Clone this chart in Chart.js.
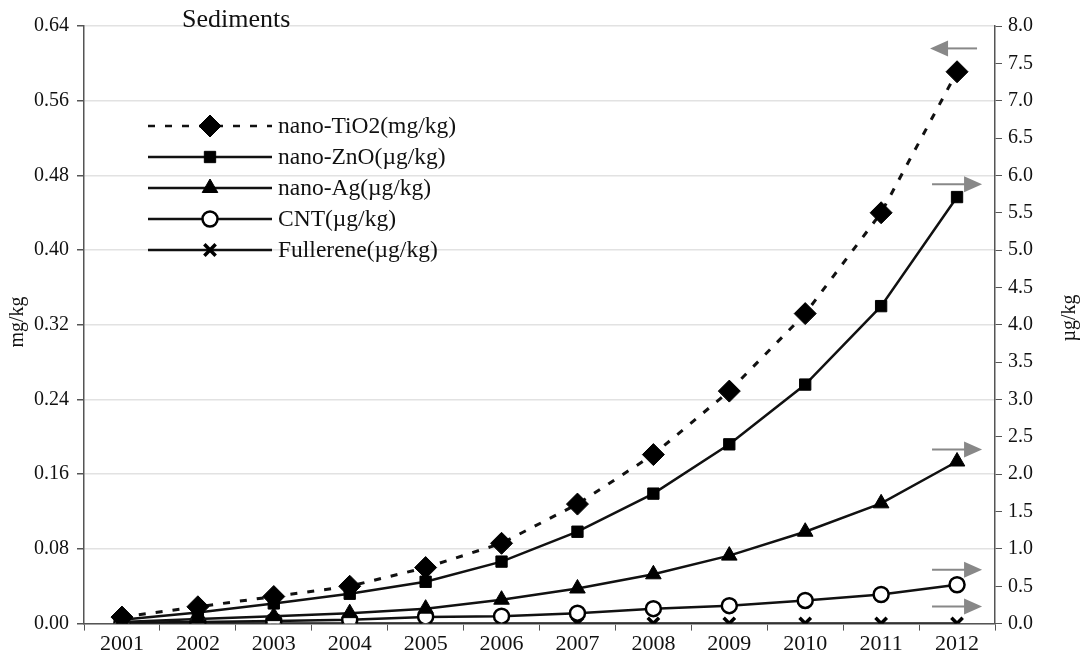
<!DOCTYPE html>
<html>
<head>
<meta charset="utf-8">
<script src="https://cdn.jsdelivr.net/npm/chart.js@4/dist/chart.umd.min.js"></script>
<style>
  html, body { margin: 0; padding: 0; background: #fff; }
  #wrap { width: 1086px; height: 669px; }
</style>
</head>
<body>
<div id="wrap"><canvas id="c"></canvas></div>
<script>
// years on the x axis
const years = ['2001', '2002', '2003', '2004', '2005', '2006', '2007', '2008', '2009', '2010', '2011', '2012'];

// nano-TiO2 is read on the left axis (mg/kg), the rest on the right one (µg/kg)
const tio2 = [0.007, 0.018, 0.029, 0.040, 0.060, 0.086, 0.128, 0.181, 0.249, 0.332, 0.440, 0.591];
const zno = [0.05, 0.15, 0.27, 0.40, 0.56, 0.83, 1.23, 1.74, 2.40, 3.20, 4.25, 5.71];
const ag = [0.02, 0.06, 0.10, 0.14, 0.20, 0.32, 0.47, 0.66, 0.91, 1.23, 1.61, 2.17];
const cnt = [0.01, 0.02, 0.035, 0.05, 0.09, 0.10, 0.14, 0.20, 0.24, 0.31, 0.39, 0.52];
const fullerene = [0.002, 0.002, 0.002, 0.002, 0.002, 0.002, 0.002, 0.002, 0.002, 0.002, 0.002, 0.002];

// grey arrows next to 2012 (value on the right axis, direction)
const arrowValues = [7.7, 5.88, 2.33, 0.72, 0.23];
const arrowDirs = ['left', 'right', 'right', 'right', 'right'];

const FONT = '"Liberation Serif", "DejaVu Serif", serif';
const AXIS = '#555';

function series(label, data, axis, style, radius, extra) {
    return Object.assign({
        label: label,
        data: data,
        yAxisID: axis,
        borderColor: '#111',
        backgroundColor: '#000',
        borderWidth: 2.5,
        pointStyle: style,
        pointRadius: radius,
        pointBorderColor: '#000',
        pointBackgroundColor: '#000',
        pointBorderWidth: 1,
        tension: 0
    }, extra || {});
}

// title, legend, axis titles and arrows
const extras = {
    id: 'extras',
    afterDraw(chart) {
        const ctx = chart.ctx;
        const xs = chart.scales.x;
        const y1 = chart.scales.y1;
        ctx.save();

        ctx.fillStyle = '#111';
        ctx.font = '26px ' + FONT;
        ctx.textBaseline = 'alphabetic';
        ctx.textAlign = 'left';
        ctx.fillText('Sediments', 182, 27);

        // axis titles
        ctx.font = '20px ' + FONT;
        ctx.textAlign = 'center';
        ctx.textBaseline = 'middle';
        ctx.save();
        ctx.translate(18, 322);
        ctx.rotate(-Math.PI / 2);
        ctx.fillText('mg/kg', 0, 0);
        ctx.restore();
        ctx.save();
        ctx.translate(1070, 318);
        ctx.rotate(-Math.PI / 2);
        ctx.fillText('µg/kg', 0, 0);
        ctx.restore();

        // legend
        const lx = 148, ly = 126, gap = 31, len = 124;
        chart.data.datasets.forEach((ds, i) => {
            const y = ly + i * gap;
            ctx.save();
            ctx.strokeStyle = '#111';
            ctx.lineWidth = 2.5;
            ctx.setLineDash(ds.borderDash || []);
            ctx.beginPath();
            ctx.moveTo(lx, y);
            ctx.lineTo(lx + len, y);
            ctx.stroke();
            ctx.restore();
            ctx.save();
            ctx.fillStyle = ds.pointBackgroundColor;
            ctx.strokeStyle = ds.pointBorderColor;
            ctx.lineWidth = ds.pointBorderWidth;
            Chart.helpers.drawPoint(ctx, {
                pointStyle: ds.pointStyle,
                rotation: 0,
                radius: ds.pointRadius,
                borderWidth: ds.pointBorderWidth
            }, lx + len / 2, y);
            ctx.restore();
            ctx.fillStyle = '#111';
            ctx.font = '23.5px ' + FONT;
            ctx.textAlign = 'left';
            ctx.textBaseline = 'middle';
            ctx.fillText(ds.label, lx + len + 6, y + 1);
        });

        // arrows
        const xEnd = xs.getPixelForValue(years.length - 1);
        ctx.strokeStyle = '#888';
        ctx.fillStyle = '#888';
        ctx.lineWidth = 2;
        arrowValues.forEach((v, i) => {
            const y = y1.getPixelForValue(v);
            const a = xEnd - 25, b = xEnd + 25;
            ctx.beginPath();
            if (arrowDirs[i] === 'left') {
                ctx.moveTo(a + 14, y); ctx.lineTo(b - 5, y); ctx.stroke();
                ctx.beginPath();
                ctx.moveTo(a - 2, y); ctx.lineTo(a + 16, y - 8); ctx.lineTo(a + 16, y + 8);
            } else {
                ctx.moveTo(a, y); ctx.lineTo(b - 15, y); ctx.stroke();
                ctx.beginPath();
                ctx.moveTo(b, y); ctx.lineTo(b - 18, y - 8); ctx.lineTo(b - 18, y + 8);
            }
            ctx.closePath();
            ctx.fill();
        });
        ctx.restore();
    }
};

new Chart(document.getElementById('c'), {
    type: 'line',
    data: {
        labels: years,
        datasets: [
            series('nano-TiO2(mg/kg)', tio2, 'y', 'rectRot', 11, { borderDash: [7, 10], borderWidth: 3 }),
            series('nano-ZnO(µg/kg)', zno, 'y1', 'rect', 8),
            series('nano-Ag(µg/kg)', ag, 'y1', 'triangle', 9),
            series('CNT(µg/kg)', cnt, 'y1', 'circle', 7.5, { pointBackgroundColor: '#fff', pointBorderWidth: 2.5 }),
            series('Fullerene(µg/kg)', fullerene, 'y1', 'crossRot', 8, { pointBorderWidth: 3.5 })
        ]
    },
    options: {
        responsive: true,
        maintainAspectRatio: false,
        animation: false,
        layout: { padding: { top: 26, right: 47, left: 26, bottom: 12 } },
        plugins: { legend: { display: false }, tooltip: { enabled: false } },
        scales: {
            x: {
                offset: true,
                grid: { display: true, drawOnChartArea: false, offset: true, color: AXIS, tickLength: 7 },
                border: { color: AXIS, width: 1.5 },
                ticks: { color: '#111', font: { family: FONT, size: 22 }, padding: 0 }
            },
            y: {
                position: 'left',
                min: 0, max: 0.64,
                ticks: { stepSize: 0.08, color: '#111', font: { family: FONT, size: 20 }, padding: 8,
                         callback: v => v.toFixed(2) },
                grid: { color: '#e2e2e2', lineWidth: 1.5, tickColor: AXIS, tickLength: 7 },
                border: { color: AXIS, width: 1.5 }
            },
            y1: {
                position: 'right',
                min: 0, max: 8,
                ticks: { stepSize: 0.5, color: '#111', font: { family: FONT, size: 20 }, padding: 6,
                         callback: v => v.toFixed(1) },
                grid: { drawOnChartArea: false, color: AXIS, tickLength: 7 },
                border: { color: AXIS, width: 1.5 }
            }
        }
    },
    plugins: [extras]
});
</script>
</body>
</html>
